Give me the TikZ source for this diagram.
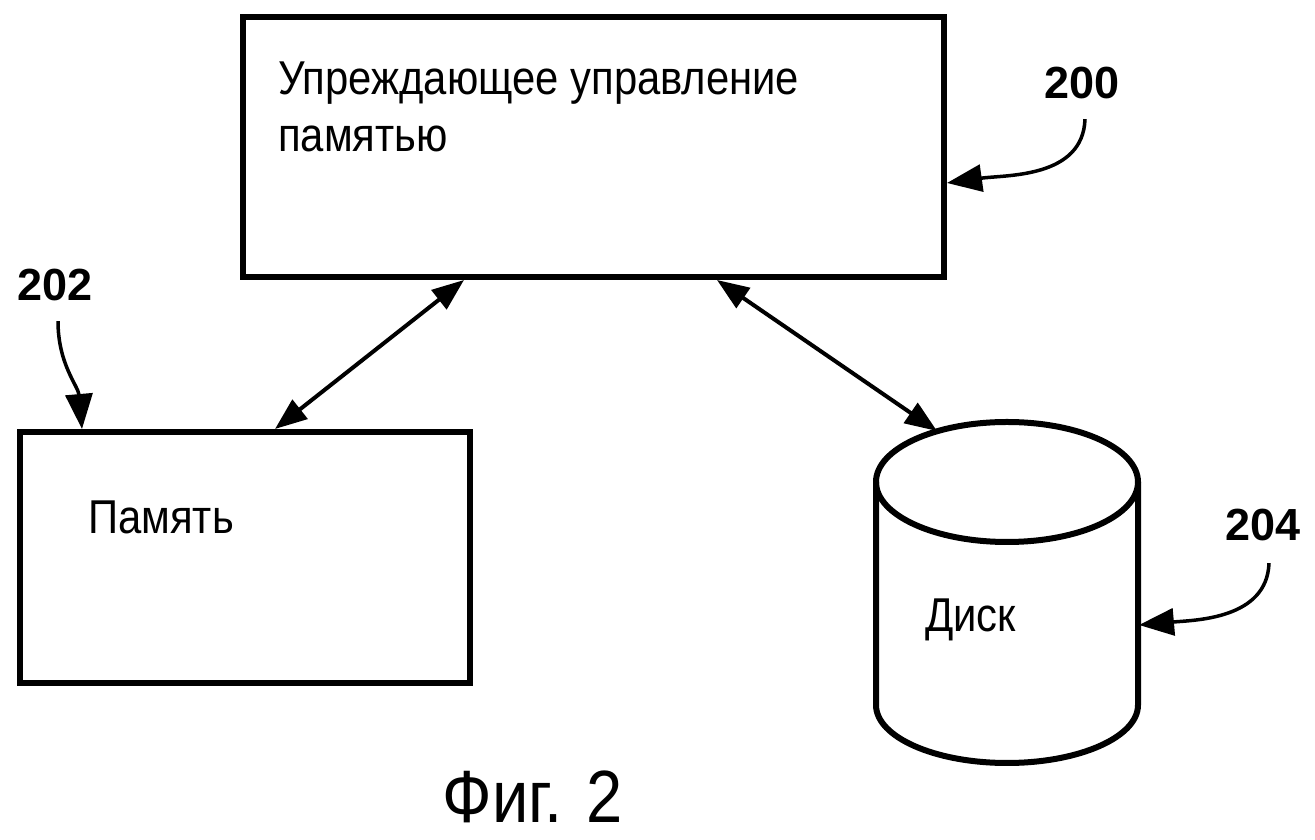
\documentclass[tikz,border=0pt]{standalone}
\usepackage{fontspec}
\setmainfont{Liberation Sans}[FakeStretch=0.88]
\newfontfamily\numfont{Liberation Sans}
\usetikzlibrary{arrows.meta, positioning}
\tikzset{%
	box/.style = { draw, line width=6pt, inner sep=0pt },
	boxtext/.style = { inner sep=0pt, align=left, font=\fontsize{47.5}{57}\selectfont },
	refnum/.style = { inner sep=0pt, font=\numfont\bfseries\fontsize{45}{45}\selectfont },
	link/.style = { line width=4pt, {Triangle[length=32pt,width=24pt]}-{Triangle[length=32pt,width=24pt]} },
	pointer/.style = { line width=3.5pt, -{Triangle[length=35pt,width=27pt]} }
}

\begin{document}
\begin{tikzpicture}[x=1pt, y=1pt]
	\useasboundingbox (0,0) rectangle (1315,840);
	% 1. блоки
	\node[box, minimum width=701, minimum height=260] (ctrl) at (593.5,693) {};
	\node[boxtext, anchor=north west] (ctrltext) at (278,778) {Упреждающее управление\\памятью};
	\node[box, minimum width=450, minimum height=251] (mem) at (245,282.5) {};
	\node[boxtext, anchor=base west] (memtext) at (88,306) {Память};
	
	% 2. диск
	\draw[line width=6pt, line join=round] (876,358) -- (876,135) arc[start angle=180, end angle=360, x radius=131, y radius=58] -- (1138,358);
	\draw[line width=6pt] (1007,358) ellipse [x radius=131, y radius=60];
	\coordinate (disktop) at (937,409);
	\coordinate (diskside) at (1139,215);
	\node[boxtext, anchor=base west] (disktext) at (925,208) {Диск};
	
	% 3. связи
	\draw[link] ([xshift=224]ctrl.south west) -- ([xshift=258]mem.north west);
	\draw[link] ([xshift=477]ctrl.south west) -- (disktop);
	
	% 4. номера позиций
	\node[refnum] (n200) at (1082,757) {200};
	\node[refnum] (n202) at (55,555) {202};
	\node[refnum] (n204) at (1263,315) {204};
	\draw[pointer] ([shift={(3,-20)}]n200.south) to[out=-92, in=8] ([yshift=-36]ctrl.east);
	\draw[pointer] ([shift={(3,-20)}]n202.south) to[out=-90, in=95] ([xshift=65]mem.north west);
	\draw[pointer] ([shift={(6,-22)}]n204.south) to[out=-92, in=5] (diskside);
	
	\node[anchor=base, font=\fontsize{74}{74}\selectfont] (fig) at (533,17) {Фиг. 2};
\end{tikzpicture}
\end{document}
